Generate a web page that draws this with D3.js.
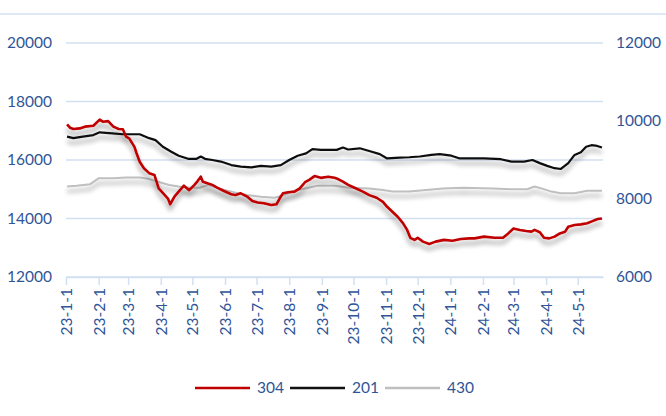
<!DOCTYPE html>
<html lang="en">
<head>
    <meta charset="UTF-8">
    <script src="https://d3js.org/d3.v7.min.js"></script>
    <title>304 / 201 / 430</title>
    <style>
        body { margin: 0; background: #fff; }
        text { font-family: Lato, "Open Sans", sans-serif; fill: #2F5597; }
        .grid-line { stroke: #D3E0F2; stroke-width: 1.5px; }
        .line { fill: none; stroke-linejoin: round; }
    </style>
</head>
<body>
    <div id="container"></div>
    <script>
        // 304 (left axis)
        var dates304 = ['2023-01-02','2023-01-05','2023-01-08','2023-01-14','2023-01-19','2023-01-27','2023-02-02','2023-02-05','2023-02-10','2023-02-15','2023-02-20','2023-02-24','2023-02-27','2023-03-02','2023-03-07','2023-03-09','2023-03-12','2023-03-16','2023-03-21','2023-03-26','2023-03-27','2023-03-30','2023-04-04','2023-04-08','2023-04-10','2023-04-14','2023-04-18','2023-04-23','2023-04-28','2023-05-03','2023-05-06','2023-05-09','2023-05-11','2023-05-16','2023-05-20','2023-05-25','2023-05-31','2023-06-07','2023-06-11','2023-06-16','2023-06-22','2023-06-27','2023-07-02','2023-07-08','2023-07-15','2023-07-20','2023-07-23','2023-07-26','2023-07-31','2023-08-06','2023-08-11','2023-08-16','2023-08-20','2023-08-25','2023-08-31','2023-09-07','2023-09-13','2023-09-15','2023-09-21','2023-09-26','2023-10-02','2023-10-10','2023-10-16','2023-10-23','2023-10-29','2023-11-02','2023-11-07','2023-11-12','2023-11-17','2023-11-21','2023-11-24','2023-11-28','2023-12-01','2023-12-06','2023-12-12','2023-12-18','2023-12-26','2024-01-03','2024-01-11','2024-01-19','2024-01-24','2024-02-02','2024-02-12','2024-02-20','2024-02-25','2024-03-01','2024-03-07','2024-03-13','2024-03-18','2024-03-21','2024-03-26','2024-03-30','2024-04-04','2024-04-09','2024-04-14','2024-04-19','2024-04-22','2024-04-28','2024-05-04','2024-05-10','2024-05-15','2024-05-20','2024-05-24'];
        var values304 = [17220,17100,17060,17080,17140,17170,17380,17310,17330,17140,17060,17050,16800,16740,16450,16230,15940,15720,15550,15490,15370,15030,14830,14670,14490,14750,14920,15120,14970,15150,15280,15430,15260,15200,15150,15050,14940,14830,14800,14860,14750,14600,14550,14520,14460,14490,14690,14860,14900,14920,15030,15240,15320,15450,15390,15430,15390,15370,15260,15150,15050,14920,14800,14710,14570,14400,14230,14060,13840,13610,13340,13270,13340,13210,13130,13210,13270,13240,13300,13320,13320,13380,13340,13340,13490,13660,13610,13570,13550,13610,13530,13340,13320,13380,13490,13550,13720,13780,13800,13840,13910,13980,14000];

        // 201 (right axis)
        var dates201 = ['2023-01-02','2023-01-08','2023-01-17','2023-01-27','2023-02-02','2023-02-11','2023-02-24','2023-03-12','2023-03-21','2023-03-27','2023-04-03','2023-04-11','2023-04-18','2023-04-27','2023-05-05','2023-05-09','2023-05-13','2023-05-20','2023-05-28','2023-06-07','2023-06-16','2023-06-26','2023-07-05','2023-07-15','2023-07-24','2023-08-01','2023-08-09','2023-08-17','2023-08-23','2023-08-31','2023-09-08','2023-09-15','2023-09-21','2023-09-26','2023-10-07','2023-10-16','2023-10-26','2023-11-02','2023-11-14','2023-11-23','2023-12-03','2023-12-14','2023-12-22','2024-01-02','2024-01-10','2024-01-19','2024-02-02','2024-02-18','2024-02-28','2024-03-11','2024-03-19','2024-03-26','2024-04-02','2024-04-09','2024-04-15','2024-04-22','2024-04-28','2024-05-04','2024-05-09','2024-05-14','2024-05-18','2024-05-24'];
        var values201 = [9600,9560,9600,9640,9710,9690,9660,9660,9560,9510,9340,9210,9110,9030,9030,9090,9030,9000,8960,8870,8830,8810,8850,8830,8870,9000,9110,9170,9280,9260,9260,9260,9320,9270,9300,9230,9150,9040,9060,9070,9090,9130,9150,9110,9040,9040,9040,9020,8960,8960,9000,8920,8850,8790,8770,8920,9130,9200,9340,9380,9370,9320];

        // 430 (right axis)
        var dates430 = ['2023-01-02','2023-01-11','2023-01-24','2023-02-01','2023-02-15','2023-02-27','2023-03-12','2023-03-21','2023-03-31','2023-04-09','2023-04-18','2023-04-28','2023-05-08','2023-05-16','2023-05-28','2023-06-10','2023-06-22','2023-07-05','2023-07-18','2023-07-27','2023-08-06','2023-08-16','2023-08-28','2023-09-13','2023-09-27','2023-10-16','2023-10-29','2023-11-07','2023-11-23','2023-12-09','2023-12-25','2024-01-13','2024-02-10','2024-02-28','2024-03-14','2024-03-21','2024-03-29','2024-04-06','2024-04-15','2024-04-28','2024-05-10','2024-05-24'];
        var values430 = [8320,8340,8380,8530,8530,8550,8550,8510,8430,8360,8320,8290,8290,8360,8260,8170,8100,8060,8030,8100,8210,8270,8340,8340,8290,8270,8230,8190,8190,8230,8270,8290,8270,8250,8250,8320,8260,8190,8150,8150,8210,8210];

        var leftTicks = [12000, 14000, 16000, 18000, 20000];
        var rightTicks = [6000, 8000, 10000, 12000];
        var seriesNames = ['304', '201', '430'];
        var seriesColors = ['#C00000', '#111111', '#BFBFBF'];

        var parseDate = d3.timeParse('%Y-%m-%d');

        var width = 666, height = 416;
        var plot = { left: 66, right: 603, top: 43, bottom: 277 };

        var x = d3.scaleTime()
            .domain([parseDate('2023-01-01'), parseDate('2024-05-25')])
            .range([plot.left, plot.right]);
        var yLeft = d3.scaleLinear().domain([12000, 20000]).range([plot.bottom, plot.top]);
        var yRight = d3.scaleLinear().domain([6000, 12000]).range([plot.bottom, plot.top]);

        var svg = d3.select('#container').append('svg')
            .attr('width', width)
            .attr('height', height);

        svg.append('rect').attr('width', width).attr('height', height).attr('fill', '#fff');

        // sombra suave bajo las lineas
        var filter = svg.append('defs').append('filter')
            .attr('id', 'shadow')
            .attr('x', '-5%').attr('y', '-50%')
            .attr('width', '110%').attr('height', '200%');
        filter.append('feGaussianBlur').attr('in', 'SourceAlpha').attr('stdDeviation', 2.4).attr('result', 'blur');
        filter.append('feOffset').attr('in', 'blur').attr('dy', 4.5).attr('result', 'off');
        filter.append('feComponentTransfer').attr('in', 'off').attr('result', 'soft')
            .append('feFuncA').attr('type', 'linear').attr('slope', 0.4);
        var merge = filter.append('feMerge');
        merge.append('feMergeNode').attr('in', 'soft');
        merge.append('feMergeNode').attr('in', 'SourceGraphic');

        // linea superior del marco
        svg.append('line')
            .attr('class', 'grid-line')
            .attr('x1', 0).attr('x2', width)
            .attr('y1', 14).attr('y2', 14);

        // lineas guia horizontales
        svg.append('g')
            .selectAll('line')
            .data(leftTicks)
            .enter().append('line')
            .attr('class', 'grid-line')
            .attr('x1', plot.left)
            .attr('x2', plot.right)
            .attr('y1', function (d) { return yLeft(d); })
            .attr('y2', function (d) { return yLeft(d); });

        // eje X
        var monthTicks = d3.timeMonth.range(parseDate('2023-01-01'), parseDate('2024-05-02'));
        var xAxis = svg.append('g')
            .attr('transform', 'translate(0,' + plot.bottom + ')')
            .call(d3.axisBottom(x)
                .tickValues(monthTicks)
                .tickSize(8)
                .tickSizeOuter(0)
                .tickFormat(d3.timeFormat('%y-%-m-%-d')));
        xAxis.select('.domain').attr('stroke', '#D3E0F2').attr('stroke-width', 1.5);
        xAxis.selectAll('.tick line').attr('stroke', '#D3E0F2').attr('stroke-width', 1.5);
        xAxis.selectAll('.tick text')
            .attr('font-size', '15.5px')
            .attr('fill', '#2F5597')
            .style('text-anchor', 'end')
            .attr('transform', 'rotate(-90)')
            .attr('x', -11)
            .attr('y', 0)
            .attr('dy', '0.35em');

        // etiquetas eje izquierdo
        svg.append('g')
            .selectAll('text')
            .data(leftTicks)
            .enter().append('text')
            .attr('x', 52)
            .attr('y', function (d) { return yLeft(d); })
            .attr('dy', '0.35em')
            .attr('text-anchor', 'end')
            .attr('font-size', '15.5px')
            .text(function (d) { return d; });

        // etiquetas eje derecho
        svg.append('g')
            .selectAll('text')
            .data(rightTicks)
            .enter().append('text')
            .attr('x', 616)
            .attr('y', function (d) { return yRight(d); })
            .attr('dy', '0.35em')
            .attr('text-anchor', 'start')
            .attr('font-size', '15.5px')
            .text(function (d) { return d; });

        function toPoints(dates, values) {
            return dates.map(function (d, i) { return { date: parseDate(d), value: values[i] }; });
        }

        var lineLeft = d3.line()
            .x(function (d) { return x(d.date); })
            .y(function (d) { return yLeft(d.value); });
        var lineRight = d3.line()
            .x(function (d) { return x(d.date); })
            .y(function (d) { return yRight(d.value); });

        svg.append('path')
            .datum(toPoints(dates430, values430))
            .attr('class', 'line')
            .attr('stroke', seriesColors[2])
            .attr('stroke-width', 2)
            .attr('filter', 'url(#shadow)')
            .attr('d', lineRight);

        svg.append('path')
            .datum(toPoints(dates201, values201))
            .attr('class', 'line')
            .attr('stroke', seriesColors[1])
            .attr('stroke-width', 2.2)
            .attr('filter', 'url(#shadow)')
            .attr('d', lineRight);

        svg.append('path')
            .datum(toPoints(dates304, values304))
            .attr('class', 'line')
            .attr('stroke', seriesColors[0])
            .attr('stroke-width', 2.6)
            .attr('filter', 'url(#shadow)')
            .attr('d', lineLeft);

        // leyenda
        var legend = svg.append('g').attr('transform', 'translate(195,388)');
        var item = legend.selectAll('g')
            .data(seriesNames)
            .enter().append('g')
            .attr('transform', function (d, i) { return 'translate(' + (i * 95) + ',0)'; });
        item.append('line')
            .attr('x1', 0).attr('x2', 55)
            .attr('y1', 0).attr('y2', 0)
            .attr('stroke', function (d, i) { return seriesColors[i]; })
            .attr('stroke-width', 2.5);
        item.append('text')
            .attr('x', 62)
            .attr('dy', '0.35em')
            .attr('font-size', '15.5px')
            .text(function (d) { return d; });
    </script>
</body>
</html>
